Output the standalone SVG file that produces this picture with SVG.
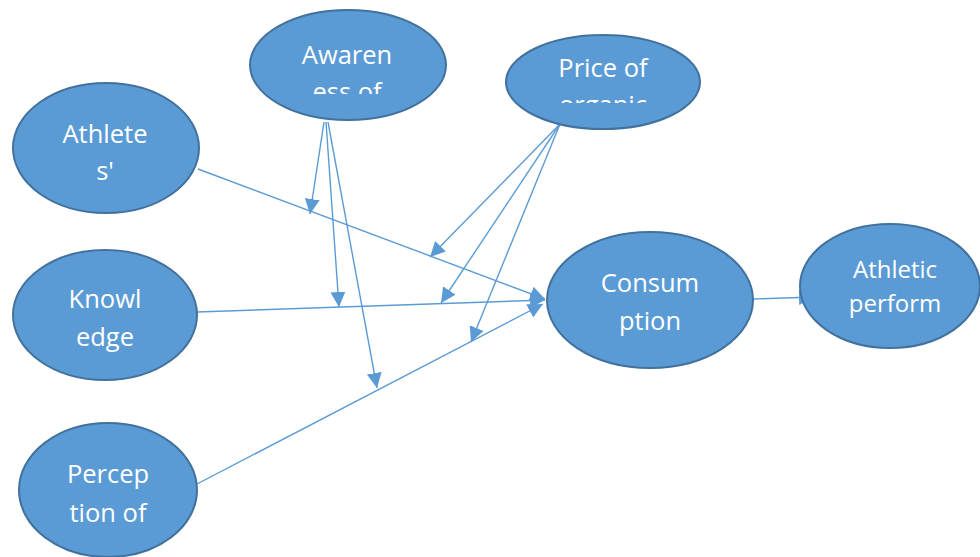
<svg xmlns="http://www.w3.org/2000/svg" width="980" height="557" viewBox="0 0 980 557">
  <defs>
    <marker id="ah" markerUnits="userSpaceOnUse" markerWidth="16" markerHeight="16" refX="15" refY="7.5" orient="auto">
      <path d="M0,0 L15,7.5 L0,15 Z" fill="#5B9BD5"/>
    </marker>
    <clipPath id="clipAw"><rect x="250" y="0" width="200" height="94"/></clipPath>
    <clipPath id="clipPr"><rect x="505" y="30" width="200" height="73"/></clipPath>
  </defs>
  <style>
    .node { fill: #5B9BD5; stroke: #41719C; stroke-width: 2; }
    .lbl { font-family: "Open Sans", "Liberation Sans", sans-serif; font-size: 25.5px; fill: #FFFFFF; text-anchor: middle; }
    .lbl2 { font-family: "Open Sans", "Liberation Sans", sans-serif; font-size: 24px; fill: #FFFFFF; text-anchor: middle; }
    .conn { stroke: #5B9BD5; stroke-width: 1.4; fill: none; marker-end: url(#ah); }
  </style>
  <rect width="980" height="557" fill="#FFFFFF"/>
  <g id="connectors">
    <line class="conn" x1="198" y1="169" x2="545" y2="299"/>
    <line class="conn" x1="197" y1="312" x2="545" y2="300"/>
    <line class="conn" x1="197" y1="484" x2="543" y2="304"/>
    <line class="conn" x1="324" y1="122" x2="310" y2="214"/>
    <line class="conn" x1="326" y1="122" x2="339" y2="307"/>
    <line class="conn" x1="328" y1="122" x2="377" y2="388"/>
    <line class="conn" x1="560" y1="124" x2="430" y2="257"/>
    <line class="conn" x1="560" y1="124" x2="441" y2="303"/>
    <line class="conn" x1="560" y1="124" x2="471" y2="342"/>
    <line class="conn" x1="753" y1="299" x2="814" y2="297"/>
  </g>
  <g id="awareness">
    <ellipse class="node" cx="348" cy="65" rx="98" ry="55"/>
    <g clip-path="url(#clipAw)">
      <text class="lbl" x="347" y="64">Awaren</text>
      <text class="lbl" x="347" y="101">ess of</text>
    </g>
  </g>
  <g id="price">
    <ellipse class="node" cx="603" cy="82" rx="97" ry="47"/>
    <g clip-path="url(#clipPr)">
      <text class="lbl" x="603" y="77">Price of</text>
      <text class="lbl" x="603" y="114">organic</text>
    </g>
  </g>
  <g id="athletes">
    <ellipse class="node" cx="106" cy="148" rx="93" ry="65"/>
    <text class="lbl" x="105" y="143">Athlete</text>
    <text class="lbl" x="105" y="180">s'</text>
  </g>
  <g id="knowledge">
    <ellipse class="node" cx="105" cy="315" rx="92" ry="65"/>
    <text class="lbl" x="105" y="308">Knowl</text>
    <text class="lbl" x="105" y="346">edge</text>
  </g>
  <g id="perception">
    <ellipse class="node" cx="108" cy="490" rx="89" ry="67"/>
    <text class="lbl" x="108" y="483">Percep</text>
    <text class="lbl" x="108" y="522">tion of</text>
  </g>
  <g id="consumption">
    <ellipse class="node" cx="650" cy="300" rx="103" ry="68"/>
    <text class="lbl" x="650" y="292">Consum</text>
    <text class="lbl" x="650" y="330">ption</text>
  </g>
  <g id="athletic-performance">
    <ellipse class="node" cx="890" cy="286" rx="90" ry="62"/>
    <text class="lbl2" x="895" y="278">Athletic</text>
    <text class="lbl2" x="895" y="312">perform</text>
  </g>
</svg>
